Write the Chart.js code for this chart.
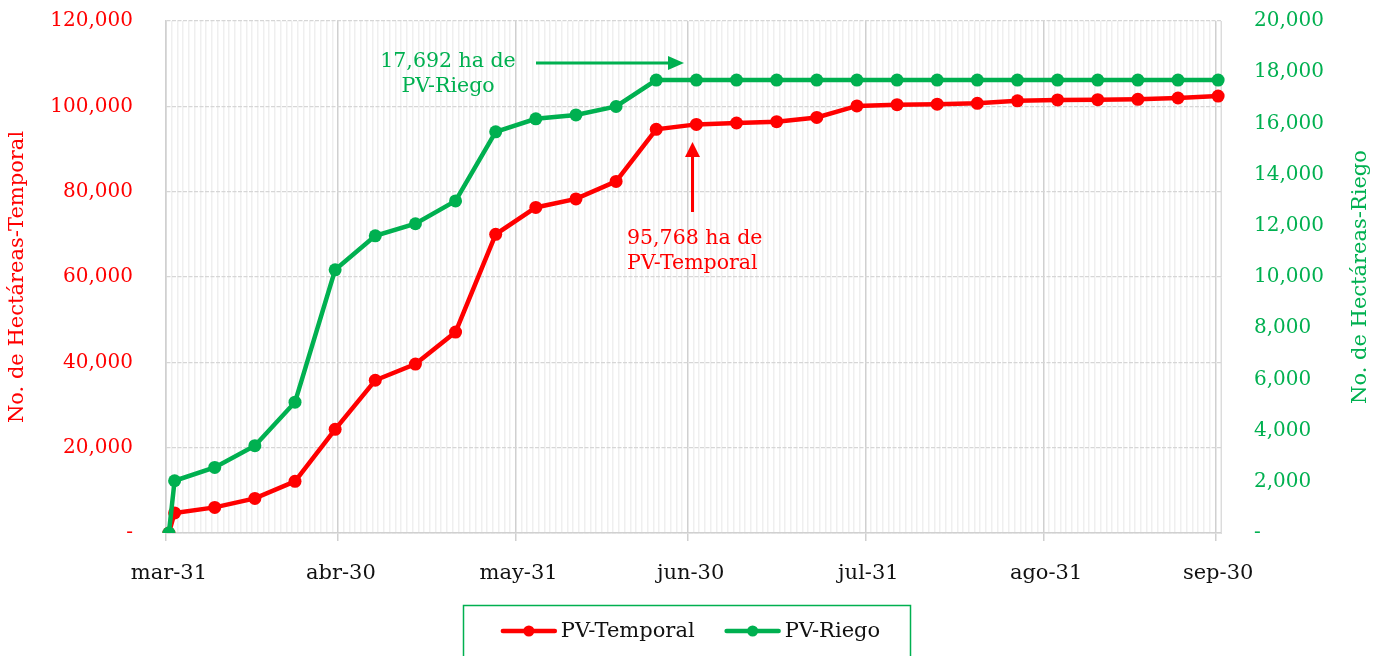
<!DOCTYPE html>
<html><head><meta charset="utf-8">
<script src="https://cdn.jsdelivr.net/npm/chart.js@4.4.1/dist/chart.umd.min.js"></script>
<style>html,body{margin:0;padding:0;background:#fff;overflow:hidden}</style>
</head><body>
<canvas id="c" width="1381" height="656"></canvas>
<script>
// ---- data ----
const obsDates = ['mar-31','abr-01','abr-08','abr-15','abr-22','abr-29','may-06','may-13','may-20','may-27',
  'jun-03','jun-10','jun-17','jun-24','jul-01','jul-08','jul-15','jul-22','jul-29','ago-05','ago-12',
  'ago-19','ago-26','sep-02','sep-09','sep-16','sep-23','sep-30'];
const temporal = [0,4700,6000,8100,12100,24300,35800,39600,47100,70000,
  76300,78300,82400,94600,95768,96100,96400,97400,100100,100400,100500,
  100700,101300,101500,101550,101650,101950,102400];
const riego = [0,2040,2560,3410,5110,10280,11610,12080,12970,15670,
  16180,16330,16660,17692,17692,17692,17692,17692,17692,17692,17692,
  17692,17692,17692,17692,17692,17692,17692];
const monthEnds = ['mar-31','abr-30','may-31','jun-30','jul-31','ago-31','sep-30'];
const leftTicks = [0,20000,40000,60000,80000,100000,120000];
const rightTicks = [0,2000,4000,6000,8000,10000,12000,14000,16000,18000,20000];
const seriesNames = ['PV-Temporal','PV-Riego'];
const RED = '#FF0000', GREEN = '#00B050';
const FONT = "'DejaVu Serif', serif";

// daily category axis (axis structure)
const MES = ['ene','feb','mar','abr','may','jun','jul','ago','sep','oct','nov','dic'];
const dayLabels = [];
for (let d = new Date(2021,2,31); d <= new Date(2021,8,30); d.setDate(d.getDate()+1)) {
  dayLabels.push(MES[d.getMonth()] + '-' + String(d.getDate()).padStart(2,'0'));
}
const majorIdx = monthEnds.map(m => dayLabels.indexOf(m));
const isMajor = i => majorIdx.includes(i);

const titlesPlugin = {
  id:'titles',
  afterDraw(chart){
    const ctx = chart.ctx, ca = chart.chartArea;
    const cy = (ca.top + ca.bottom)/2;
    ctx.save();
    ctx.font = "21px " + FONT; ctx.textAlign='center'; ctx.textBaseline='middle';
    ctx.save(); ctx.translate(18, cy); ctx.rotate(-Math.PI/2); ctx.fillStyle = RED;
    ctx.fillText('No. de Hectáreas-Temporal', 0, 0); ctx.restore();
    ctx.save(); ctx.translate(1361, cy); ctx.rotate(-Math.PI/2); ctx.fillStyle = GREEN;
    ctx.fillText('No. de Hectáreas-Riego', 0, 0); ctx.restore();
    ctx.restore();
  }
};

const annoPlugin = {
  id:'anno',
  afterDatasetsDraw(chart){
    const ctx = chart.ctx;
    ctx.save();
    ctx.font = "20.5px " + FONT; ctx.textBaseline='middle';
    // green annotation
    ctx.fillStyle = GREEN; ctx.textAlign='center';
    ctx.fillText('17,692 ha de', 448, 62);
    ctx.fillText('PV-Riego', 448, 87);
    ctx.strokeStyle = GREEN; ctx.lineWidth = 3;
    ctx.beginPath(); ctx.moveTo(536, 63); ctx.lineTo(672, 63); ctx.stroke();
    ctx.beginPath(); ctx.moveTo(684, 63); ctx.lineTo(668, 56); ctx.lineTo(668, 70); ctx.closePath(); ctx.fill();
    // red annotation
    ctx.fillStyle = RED; ctx.textAlign='left';
    ctx.fillText('95,768 ha de', 627, 239);
    ctx.fillText('PV-Temporal', 627, 264);
    ctx.strokeStyle = RED;
    ctx.beginPath(); ctx.moveTo(692.5, 212); ctx.lineTo(692.5, 154); ctx.stroke();
    ctx.beginPath(); ctx.moveTo(692.5, 142); ctx.lineTo(685, 157); ctx.lineTo(700, 157); ctx.closePath(); ctx.fill();
    ctx.restore();
  }
};

const legendPlugin = {
  id:'boxLegend',
  afterDraw(chart){
    const ctx = chart.ctx;
    const ds = chart.data.datasets;
    ctx.save();
    ctx.strokeStyle = GREEN; ctx.lineWidth = 1.5;
    const bx = 463, bw = 447, by = 605;
    ctx.strokeRect(bx+0.5, by+0.5, bw, 80);
    ctx.font = "21px " + FONT; ctx.textBaseline = 'middle'; ctx.textAlign='left';
    const sw = 56, gap = 4, itemGap = 30;
    const widths = ds.map(d => sw + gap + ctx.measureText(d.label).width);
    const total = widths.reduce((a,b)=>a+b,0) + itemGap*(ds.length-1);
    let x = bx + bw/2 - total/2 + 4;
    const y = 631;
    ds.forEach((d,i) => {
      ctx.strokeStyle = d.borderColor; ctx.fillStyle = d.borderColor; ctx.lineWidth = 4.5; ctx.lineCap='round';
      ctx.beginPath(); ctx.moveTo(x+2, y); ctx.lineTo(x+sw-2, y); ctx.stroke();
      ctx.beginPath(); ctx.arc(x+sw/2, y, 5.5, 0, Math.PI*2); ctx.fill();
      ctx.fillStyle = '#111';
      ctx.fillText(d.label, x+sw+gap, y+1);
      x += widths[i] + itemGap;
    });
    ctx.restore();
  }
};

function zeroPad(s){ s.paddingTop = 0; s.paddingBottom = 0; s.paddingLeft = 0; s.paddingRight = 0; }

new Chart(document.getElementById('c'), {
  type:'line',
  data:{
    labels: dayLabels,
    datasets:[
      {label: seriesNames[0], data: obsDates.map((d,i)=>({x:d, y:temporal[i]})), yAxisID:'y',
       borderColor:RED, backgroundColor:RED, pointBackgroundColor:RED, pointBorderColor:RED,
       borderWidth:4.5, pointRadius:6.5, pointBorderWidth:0, tension:0, order:1},
      {label: seriesNames[1], data: obsDates.map((d,i)=>({x:d, y:riego[i]})), yAxisID:'y1',
       borderColor:GREEN, backgroundColor:GREEN, pointBackgroundColor:GREEN, pointBorderColor:GREEN,
       borderWidth:4.5, pointRadius:6.5, pointBorderWidth:0, tension:0, order:0}
    ]
  },
  options:{
    responsive:false, animation:false, devicePixelRatio:1,
    layout:{padding:{top:21,left:0,right:0,bottom:0}},
    plugins:{legend:{display:false}, tooltip:{enabled:false}},
    scales:{
      x:{type:'category', offset:true,
        grid:{offset:true, tickLength:8,
          lineWidth: c => isMajor(c.index) ? 1.5 : 1.5,
          color: c => isMajor(c.index) ? '#d0d0d0' : '#efefef',
          tickColor: c => isMajor(c.index) ? '#d0d0d0' : 'rgba(0,0,0,0)'},
        border:{display:true, color:'#d0d0d0', width:1.5},
        ticks:{autoSkip:false, maxRotation:0, minRotation:0, color:'#111', padding:20,
          font:{family:FONT, size:21},
          callback(v){ const l = this.getLabelForValue(v); return monthEnds.includes(l) ? l : ''; }},
        afterFit(s){ s.height = 123; zeroPad(s); }
      },
      y:{position:'left', min:0, max:120000,
        afterBuildTicks(s){ s.ticks = leftTicks.map(v=>({value:v})); },
        ticks:{color:RED, padding:33, font:{family:FONT, size:20},
          callback: v => v===0 ? '-' : v.toLocaleString('en-US')},
        grid:{color:'#d6d6d6', drawTicks:false, lineWidth:1.2},
        border:{display:true, color:'#d0d0d0', width:1.5, dash:[4,1.5]},
        afterFit(s){ s.width = 166; zeroPad(s); }
      },
      y1:{position:'right', min:0, max:20000,
        afterBuildTicks(s){ s.ticks = rightTicks.map(v=>({value:v})); },
        ticks:{color:GREEN, padding:33, font:{family:FONT, size:20},
          callback: v => v===0 ? '-' : v.toLocaleString('en-US')},
        grid:{drawOnChartArea:false, drawTicks:false},
        border:{display:true, color:'#dcdcdc'},
        afterFit(s){ s.width = 160; zeroPad(s); }
      }
    }
  },
  plugins:[titlesPlugin, annoPlugin, legendPlugin]
});
</script>
</body></html>
